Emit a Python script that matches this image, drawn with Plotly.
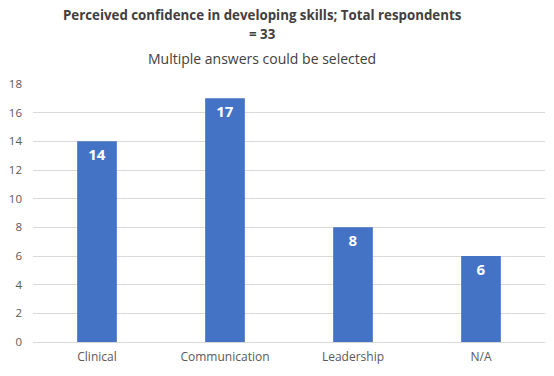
import plotly.graph_objects as go

categories = ["Clinical", "Communication", "Leadership", "N/A"]
values = [14, 17, 8, 6]
y_ticks = [0, 2, 4, 6, 8, 10, 12, 14, 16, 18]

fig = go.Figure(go.Bar(
    x=categories, y=values,
    marker=dict(color="#4472C4", line=dict(width=0)),
    text=[str(v) for v in values], textposition="inside",
    insidetextanchor="end",
    textfont=dict(color="white", size=15, family="Open Sans"),
    texttemplate="<b>%{text}</b>",
    width=0.31,
))

fig.update_layout(
    width=554, height=376,
    margin=dict(l=33, r=9, t=84, b=34),
    paper_bgcolor="white", plot_bgcolor="white",
    showlegend=False,
    font=dict(family="Open Sans", color="#595959"),
)
title_lines = [
    ("<b>Perceived confidence in developing skills; Total respondents</b>", 15, 13.3),
    ("<b>= 33</b>", 34, 13.3),
    ("Multiple answers could be selected", 58, 14),
]
for txt, ypix, size in title_lines:
    fig.add_annotation(text=txt, xref="paper", yref="paper", x=0.5, y=1,
                       showarrow=False, xanchor="center", yanchor="middle",
                       xshift=-27, yshift=84 - ypix,
                       font=dict(size=size, color="#404040"))

fig.update_xaxes(showgrid=False, showline=True, linecolor="#D9D9D9", linewidth=1,
                 tickfont=dict(size=12, color="#595959"), ticks="", ticklabelstandoff=4)
fig.update_yaxes(range=[0, 18], tickvals=y_ticks, showgrid=True, gridcolor="#D9D9D9",
                 zeroline=False, showline=False, ticks="", ticklabelstandoff=10,
                 tickfont=dict(size=11.5, color="#595959"))

fig.write_html("out.html", config={"displayModeBar": False},
               post_script="document.body.style.margin='0';")
